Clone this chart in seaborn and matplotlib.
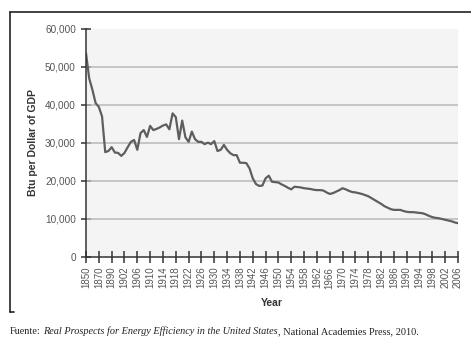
import numpy as np
import pandas as pd
import matplotlib
matplotlib.use("Agg")
import matplotlib.pyplot as plt
from matplotlib.lines import Line2D
import seaborn as sns

# ---- data ----
early_years = [1850, 1855, 1860, 1865, 1870, 1875, 1880, 1885, 1890, 1895, 1900]
annual_years = list(range(1901, 2007))
years = early_years + annual_years

btu = [
    53600, 47000, 44000, 40500, 39500, 37000, 27600, 27900, 28900, 27500, 27400,  # 1850-1900
    26600, 27400, 28900, 30300, 30800, 28200, 32600, 33400, 31600, 34500,         # 1901-1910
    33400, 33700, 34100, 34600, 34900, 33600, 37800, 36800, 31000, 35900,         # 1911-1920
    31500, 30300, 33000, 31000, 30300, 30300, 29700, 30100, 29700, 30500,         # 1921-1930
    27900, 28200, 29500, 28200, 27300, 26800, 26800, 24800, 24800, 24700,         # 1931-1940
    23300, 20700, 19200, 18700, 18800, 20700, 21400, 19800, 19700, 19600,         # 1941-1950
    19100, 18700, 18200, 17800, 18500, 18400, 18300, 18100, 18000, 17900,         # 1951-1960
    17700, 17600, 17600, 17500, 17000, 16600, 16800, 17200, 17600, 18100,         # 1961-1970
    17800, 17400, 17100, 17000, 16800, 16600, 16300, 16000, 15500, 15000,         # 1971-1980
    14500, 14000, 13400, 13000, 12600, 12400, 12400, 12400, 12100, 11900,         # 1981-1990
    11800, 11800, 11700, 11600, 11500, 11200, 10800, 10500, 10300, 10200,         # 1991-2000
    10000, 9800, 9600, 9400, 9100, 8900,                                          # 2001-2006
]

tick_labels = ["1850", "1870", "1890"] + [str(y) for y in range(1902, 2007, 4)]
y_ticks = [0, 10000, 20000, 30000, 40000, 50000, 60000]

df = pd.DataFrame({"year": years, "btu": btu})
df["pos"] = np.arange(len(df))
tick_pos = [years.index(int(t)) for t in tick_labels]

# ---- style ----
sns.set_style("white")
plt.rcParams["font.family"] = ["Liberation Sans", "DejaVu Sans"]

W, H = 471, 343
fig = plt.figure(figsize=(W / 100, H / 100), dpi=100)
ax = fig.add_axes([86 / W, 1 - 257 / H, (458 - 86) / W, (257 - 29) / H])
ax.set_facecolor("#f4f4f4")

for v in y_ticks[1:-1]:
    ax.axhline(v, color="#b9b9b9", lw=1.1, zorder=1)

sns.lineplot(data=df, x="pos", y="btu", ax=ax, color="#5e5e5e", lw=1.6, zorder=3)

ax.set_xlim(0, len(df) - 1)
ax.set_ylim(0, 60000)
ax.set_yticks(y_ticks)
ax.set_yticklabels([f"{v:,}" for v in y_ticks], fontsize=7.2, color="#555555")
ax.set_xticks(tick_pos)
ax.set_xticklabels(tick_labels, rotation=90, fontsize=7.0, color="#555555",
                   family=["Liberation Sans Narrow", "Liberation Sans"])

ax.tick_params(axis="y", left=True, direction="inout", length=7.5, width=1.1,
               color="#333333", pad=3.5)
ax.tick_params(axis="x", bottom=True, direction="inout", length=8, width=1.1,
               color="#333333", pad=3)

for s in ["top", "right"]:
    ax.spines[s].set_visible(False)
for s in ["left", "bottom"]:
    ax.spines[s].set_color("#333333")
    ax.spines[s].set_linewidth(1.1)
    ax.spines[s].set_zorder(4)

ax.set_ylabel("Btu per Dollar of GDP", fontsize=7.5, fontweight="bold", color="#333333", labelpad=5)
ax.set_xlabel("Year", fontsize=7.5, fontweight="bold", color="#333333", labelpad=7)

# outer frame (top and left lines with small bottom stub)
fx = lambda px: px / W
fy = lambda py: 1 - py / H
fig.add_artist(Line2D([fx(9.5), fx(471)], [fy(11.5), fy(11.5)], color="#222222", lw=1.2))
fig.add_artist(Line2D([fx(9.5), fx(9.5)], [fy(11.5), fy(312)], color="#222222", lw=1.2))
fig.add_artist(Line2D([fx(9.5), fx(14)], [fy(312), fy(312)], color="#222222", lw=1.2))

# source note
serif = ["Liberation Serif", "DejaVu Serif"]
fig.canvas.draw()
r = fig.canvas.get_renderer()
parts = [("Fuente:", "normal", 2.2),
         ("Real Prospects for Energy Efficiency in the United States", "italic", 0.2),
         (", National Academies Press, 2010.", "normal", 0)]
x = 10
for txt, style, gap in parts:
    t = fig.text(fx(x), fy(334), txt, fontsize=7.4, family=serif, style=style,
                 color="#222222", va="baseline")
    bb = t.get_window_extent(renderer=r)
    x += bb.width + gap

fig.savefig("out.png", dpi=100)
